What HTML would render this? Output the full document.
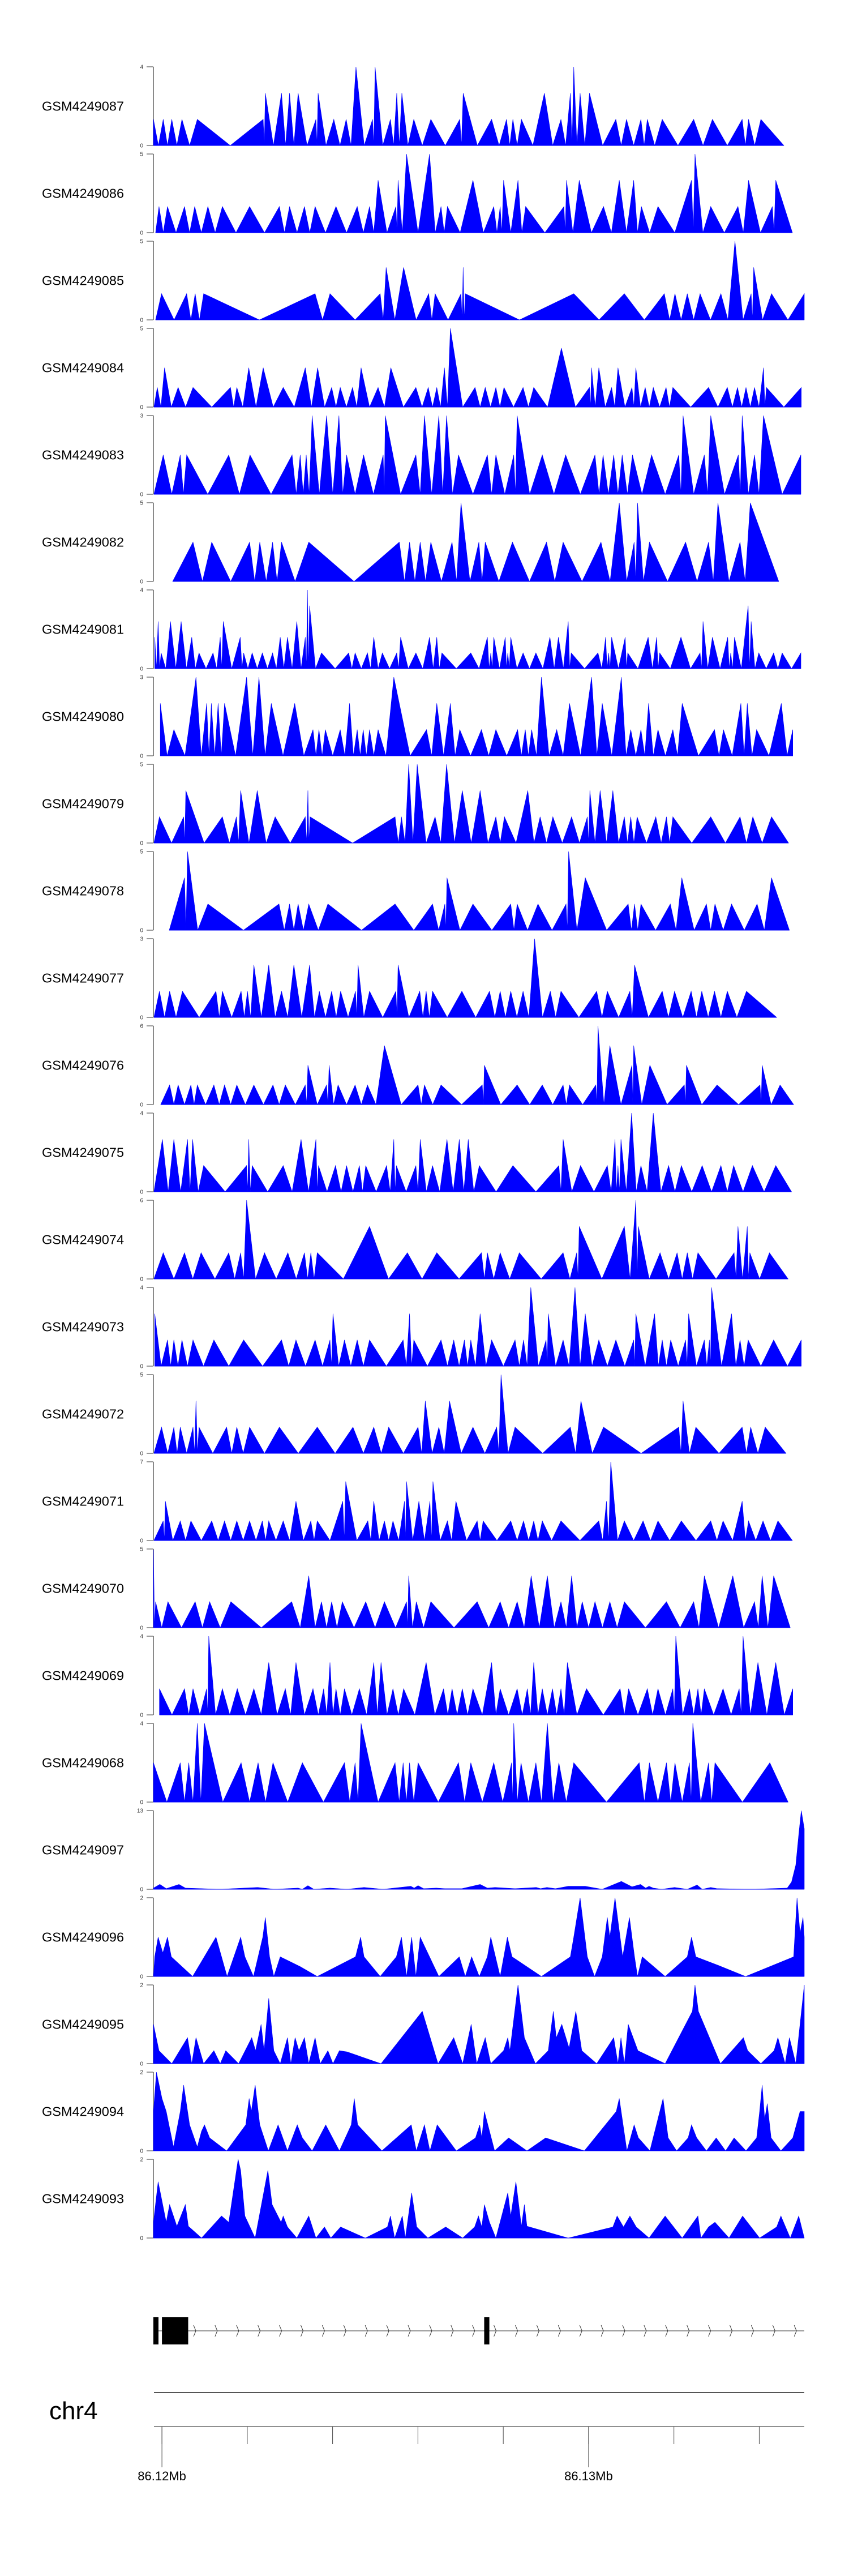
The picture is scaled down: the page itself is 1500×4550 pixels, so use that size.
<!DOCTYPE html>
<html>
<head>
<meta charset="utf-8">
<style>
  html,body{margin:0;padding:0;background:#fff;}
  svg{display:block;}
  text{font-family:"Liberation Sans",Arial,sans-serif;}
</style>
</head>
<body>
<svg id="chart" xmlns="http://www.w3.org/2000/svg" width="1500" height="4550" viewBox="0 0 1500 4550">
  <rect x="0" y="0" width="1500" height="4550" fill="#fff"/>
  <g id="tracks"></g>
  <g id="gene"></g>
  <g id="axis"></g>
</svg>
<script>
// ---- sample names and y-axis maxima ----
const sampleNames = ["GSM4249087","GSM4249086","GSM4249085","GSM4249084","GSM4249083","GSM4249082","GSM4249081","GSM4249080","GSM4249079","GSM4249078","GSM4249077","GSM4249076","GSM4249075","GSM4249074","GSM4249073","GSM4249072","GSM4249071","GSM4249070","GSM4249069","GSM4249068","GSM4249097","GSM4249096","GSM4249095","GSM4249094","GSM4249093"];
const yMaxLabels = [4,5,5,5,3,5,4,3,5,5,3,6,4,6,4,5,7,5,4,4,13,2,2,2,2];
// coverage per level (normalised read unit) for each sample
const levelScale = [1.333,1.667,1.667,1.25,1.5,2.5,0.8,1,1.667,1.667,1,1.5,1.333,2,1.333,1.667,1.75,1.65,1.333,2,1,1,1,1,1];
// peak-style tracks get zero valleys inserted between adjacent peaks
const valleyMode = [true,true,true,true,true,true,true,true,true,true,true,true,true,true,true,true,true,true,true,true,false,false,false,false,false];

// ---- genomic positions (bins of ~10 bp) and levels per sample ----
const pos0=[15,38,58,82,118,273,278,316,335,355,397,402,439,468,491,530,536,572,587,599,627,667,735,743,810,845,860,880,934,973,995,1003,1018,1040,1102,1127,1161,1176,1211,1285,1329,1399,1414,1443,1497];
const lv0=[1,1,1,1,1,1,2,2,2,2,1,2,1,1,3,1,3,1,2,2,1,1,1,2,1,1,1,1,2,1,2,3,2,2,1,1,1,1,1,1,1,1,1,1,0];
const pos1=[20,28,48,88,112,143,177,241,311,335,370,395,444,494,523,543,585,590,610,664,691,706,766,815,830,838,872,890,980,986,1016,1073,1110,1144,1162,1201,1280,1288,1325,1389,1414,1470,1478,1517];
const lv1=[0,1,1,1,1,1,1,1,1,1,1,1,1,1,1,2,1,2,3,3,1,1,2,1,1,2,2,1,1,2,2,1,2,2,1,1,2,3,1,1,2,1,2,0];
const pos2=[20,34,93,113,133,395,430,548,562,603,662,677,738,743,748,1003,1122,1216,1241,1270,1300,1349,1382,1420,1426,1468,1545];
const lv2=[0,1,1,1,1,1,1,1,2,2,1,1,1,2,1,1,1,1,1,1,1,1,3,1,2,1,1];
const pos3=[16,24,41,73,108,196,211,239,273,320,372,401,434,454,483,503,543,573,632,661,681,699,713,771,795,820,839,884,909,974,1040,1045,1062,1092,1107,1140,1149,1171,1190,1220,1236,1320,1364,1388,1408,1428,1449,1456,1538];
const lv3=[0,1,2,1,1,1,1,2,2,1,2,2,1,1,1,2,1,2,1,1,1,2,4,1,1,1,1,1,1,3,1,2,2,1,2,1,2,1,1,1,1,1,1,1,1,1,2,1,1];
const pos4=[16,38,78,93,192,242,341,360,374,388,422,451,469,509,555,560,632,652,686,704,732,800,820,862,870,929,984,1053,1072,1097,1117,1141,1186,1250,1260,1310,1325,1390,1399,1428,1449,1537];
const lv4=[0,1,1,1,1,1,1,1,1,2,2,2,1,1,1,2,1,2,2,2,1,1,1,1,2,1,1,1,1,1,1,1,1,1,2,1,2,1,2,1,2,1];
const pos5=[60,108,152,241,265,295,316,380,593,617,642,667,717,738,780,795,859,939,978,1067,1110,1145,1153,1181,1266,1320,1342,1394,1418,1485];
const lv5=[0,1,1,1,1,1,1,1,1,1,1,1,1,2,1,1,1,1,1,1,2,1,2,1,1,1,2,1,2,0];
const pos6=[18,26,33,55,80,105,122,155,172,179,219,227,247,271,295,313,330,352,372,377,382,410,474,489,518,533,553,587,596,632,664,681,693,761,800,808,815,842,848,855,884,914,947,967,990,997,1060,1078,1085,1092,1124,1130,1178,1198,1205,1255,1300,1307,1329,1365,1372,1381,1413,1420,1438,1473,1493,1537];
const lv6=[2,3,1,3,3,2,1,1,2,3,2,1,1,1,1,2,2,3,2,5,4,1,1,1,1,2,1,1,2,1,2,2,1,1,2,1,2,2,1,2,1,1,2,2,3,1,1,2,1,2,2,1,2,2,1,2,1,3,2,2,1,2,4,3,1,1,1,1];
const pos7=[31,63,115,140,151,167,182,234,263,292,347,390,404,419,454,476,494,508,523,543,580,657,681,713,735,786,820,871,889,904,927,963,993,1045,1070,1115,1137,1161,1179,1201,1236,1258,1334,1355,1396,1411,1433,1491,1518];
const lv7=[2,1,3,2,2,2,2,3,3,2,2,1,1,1,1,2,1,1,1,1,3,1,2,2,1,1,1,1,1,1,3,1,2,3,2,3,1,1,2,1,1,2,1,1,2,2,1,2,1];
const pos8=[16,29,86,91,177,210,220,259,301,372,378,383,583,598,615,635,677,704,741,783,820,840,895,924,954,998,1035,1041,1065,1095,1122,1137,1152,1196,1221,1236,1325,1394,1424,1468,1508];
const lv8=[0,1,1,2,1,1,2,2,1,1,2,1,1,1,3,3,1,3,2,2,1,1,2,1,1,1,1,2,2,2,1,1,1,1,1,1,1,1,1,1,0];
const pos9=[52,88,95,143,310,335,355,380,425,583,671,700,705,766,855,870,919,985,991,1030,1131,1146,1161,1230,1257,1315,1335,1374,1434,1468,1510];
const lv9=[0,2,3,1,1,1,1,1,1,1,1,1,2,1,1,1,1,1,3,2,1,1,1,1,2,1,1,1,1,2,0];
const pos10=[16,29,53,83,162,177,221,236,251,286,316,345,382,405,434,455,490,496,523,585,590,641,656,671,740,805,830,855,884,911,948,973,1057,1082,1135,1146,1211,1240,1279,1304,1334,1364,1409,1480];
const lv10=[0,1,1,1,1,1,1,1,2,2,1,2,2,1,1,1,1,2,1,1,2,1,1,1,1,1,1,1,1,3,1,1,1,1,1,2,1,1,1,1,1,1,1,0];
const pos11=[32,53,73,103,118,157,182,211,251,296,325,372,378,422,428,449,489,518,558,637,652,691,788,793,870,929,978,993,1055,1060,1088,1140,1144,1182,1263,1268,1340,1441,1446,1488,1520];
const lv11=[0,1,1,1,1,1,1,1,1,1,1,1,2,1,2,1,1,1,3,1,1,1,1,2,1,1,1,1,1,4,3,2,3,2,1,2,1,1,2,1,0];
const pos12=[16,36,63,95,107,133,234,239,247,320,362,397,403,443,469,499,514,563,580,586,632,642,671,705,734,755,781,860,968,978,1019,1082,1100,1107,1114,1139,1161,1190,1226,1256,1305,1349,1379,1423,1478,1515];
const lv12=[0,2,2,2,2,1,1,2,1,1,2,2,1,1,1,1,1,1,2,1,1,2,1,2,2,2,1,1,1,2,1,1,2,1,2,3,1,3,1,1,1,1,1,1,1,0];
const pos13=[16,38,88,127,192,220,234,276,331,370,385,400,523,612,681,786,800,830,875,978,1010,1016,1122,1149,1155,1206,1246,1270,1295,1380,1389,1411,1417,1463,1507];
const lv13=[0,1,1,1,1,1,3,1,1,1,1,1,2,1,1,1,1,1,1,1,1,2,2,3,2,1,1,1,1,1,2,2,1,1,0];
const pos14=[18,48,63,82,108,157,227,316,350,395,430,437,464,494,523,602,617,627,691,721,746,761,783,810,865,885,902,938,943,978,1006,1030,1062,1102,1144,1149,1193,1211,1231,1266,1273,1310,1322,1327,1374,1394,1413,1473,1538];
const lv14=[2,1,1,1,1,1,1,1,1,1,1,2,1,1,1,1,2,1,1,1,1,1,2,1,1,1,3,1,2,1,3,2,1,1,1,2,2,1,1,1,2,1,1,3,2,1,1,1,1];
const pos15=[16,34,63,78,108,115,122,187,211,241,311,400,484,533,568,637,654,686,711,766,822,832,865,995,1020,1073,1250,1260,1290,1399,1419,1453,1502];
const lv15=[0,1,1,1,1,2,1,1,1,1,1,1,1,1,1,1,2,1,2,1,1,3,1,1,2,1,1,2,1,1,1,1,0];
const pos16=[16,38,43,78,103,152,182,211,241,271,286,320,350,385,400,460,467,519,533,558,578,605,610,639,665,672,706,726,776,790,855,885,909,929,973,1062,1080,1090,1122,1166,1201,1256,1325,1354,1399,1414,1448,1483,1517];
const lv16=[0,1,2,1,1,1,1,1,1,1,1,1,2,1,1,2,3,1,2,1,1,2,3,2,2,3,1,2,1,1,1,1,1,1,1,1,2,4,1,1,1,1,1,1,2,1,1,1,0];
const pos17=[15,20,49,113,147,197,340,380,410,434,459,514,558,610,615,633,667,776,830,870,903,941,973,998,1023,1053,1088,1122,1221,1285,1310,1377,1428,1446,1473,1512];
const lv17=[3,1,1,1,1,1,1,2,1,1,1,1,1,1,2,1,1,1,1,1,2,2,1,2,1,1,1,1,1,1,2,2,1,2,2,0];
const pos18=[29,88,108,140,145,177,212,251,286,325,350,390,415,430,444,464,499,533,550,578,603,656,697,717,741,766,810,830,870,894,909,929,953,973,988,1033,1112,1132,1176,1201,1236,1243,1275,1295,1310,1354,1392,1401,1436,1478,1518];
const lv18=[1,1,1,1,3,1,1,1,2,1,2,1,1,2,1,1,1,2,2,1,1,2,1,1,1,1,2,1,1,1,2,1,1,1,2,1,1,1,1,1,1,3,1,1,1,1,1,3,2,2,1];
const pos19=[15,78,98,118,135,221,261,296,365,464,489,503,583,602,617,637,732,761,815,857,862,879,914,941,968,1003,1157,1181,1221,1241,1275,1283,1320,1335,1464,1507];
const lv19=[1,1,1,2,2,1,1,1,1,1,1,2,1,1,1,1,1,1,1,1,2,1,1,2,1,1,1,1,1,1,1,2,1,1,1,0];
const pos20=[15,30,45,75,90,170,260,300,355,365,378,392,430,470,510,555,620,628,637,650,680,700,740,783,800,818,865,915,925,940,960,990,1030,1070,1115,1140,1160,1172,1180,1190,1210,1240,1270,1293,1305,1325,1340,1420,1505,1515,1525,1532,1538,1545];
const lv20=[0.2,0.8,0.1,0.8,0.2,0,0.3,0,0.2,0,0.6,0,0.2,0,0.3,0,0.5,0.2,0.6,0.1,0.2,0.1,0.1,0.8,0.2,0.3,0.1,0.3,0.1,0.3,0.1,0.5,0.5,0,1.3,0.4,0.8,0.2,0.5,0.2,0,0.3,0,0.7,0,0.3,0.1,0,0.2,1.2,4,9,13,10];
const pos21=[15,18,26,37,48,57,107,162,188,220,230,250,272,278,288,298,313,360,400,490,502,510,548,586,598,610,622,632,642,686,734,748,763,781,800,808,830,847,858,927,995,1003,1018,1035,1052,1070,1082,1088,1100,1118,1134,1146,1153,1164,1218,1270,1280,1290,1350,1407,1520,1528,1535,1542,1545];
const lv21=[0,0.5,1,0.6,1,0.5,0,1,0,1,0.5,0,1,1.5,0.5,0,0.5,0.25,0,0.5,1,0.5,0,0.5,1,0,1,0,1,0,0.5,0,0.5,0,0.5,1,0,1,0.5,0,0.5,1,2,0.5,0,0.5,1.5,1,2,0.5,1.5,0.5,0,0.5,0,0.5,1,0.5,0.25,0,0.5,2,1.1,1.5,1];
const pos22=[15,28,58,95,105,115,133,157,172,185,215,246,255,268,275,286,298,313,330,338,348,357,370,380,395,407,425,437,452,470,550,647,684,721,742,762,775,795,808,838,848,853,872,887,913,943,955,962,975,992,1008,1022,1057,1097,1107,1114,1122,1131,1154,1218,1282,1288,1296,1348,1402,1412,1443,1474,1483,1500,1510,1525,1545];
const lv22=[1,0.33,0,0.66,0,0.66,0,0.33,0,0.33,0,0.66,0.33,1,0.33,1.66,0.33,0,0.66,0,0.66,0.33,0.66,0,0.66,0,0.33,0,0.33,0.3,0,1.33,0,0.66,0,1,0,0.66,0,0.33,0.66,0.33,2,0.66,0,0.33,1.33,0.66,1,0.4,1.33,0.33,0,0.66,0,0.66,0,1,0.33,0,1.33,2,1.33,0,0.66,0.33,0,0.33,0.66,0,0.66,0,2];
const pos23=[15,22,35,45,62,72,78,86,100,118,128,135,147,187,232,240,245,254,265,285,308,330,353,365,388,420,452,480,487,495,552,621,633,652,665,682,727,772,782,787,793,817,850,893,937,1028,1103,1110,1128,1145,1155,1182,1213,1225,1245,1272,1280,1292,1315,1338,1360,1380,1408,1433,1440,1446,1452,1458,1467,1490,1518,1535,1545];
const lv23=[1,2,1.33,1,0.1,0.66,1,1.67,0.66,0.1,0.5,0.66,0.33,0,0.66,1.33,1,1.67,0.66,0,0.66,0,0.66,0.33,0,0.66,0,0.66,1.33,0.66,0,0.66,0,0.66,0,0.66,0,0.33,0.66,0.33,1,0,0.33,0,0.33,0,1,1.33,0,0.66,0.33,0,1.33,0.33,0,0.33,0.66,0.33,0,0.33,0,0.33,0,0.33,1,1.67,0.8,1.2,0.33,0,0.33,1,1];
const pos24=[15,26,45,53,70,90,97,128,175,192,214,220,230,254,284,294,315,320,330,352,380,397,417,432,455,513,565,572,582,600,607,622,634,660,702,742,770,779,787,793,805,820,848,855,867,880,887,893,990,1095,1105,1120,1135,1150,1180,1218,1258,1295,1302,1320,1335,1368,1400,1440,1480,1490,1512,1532,1545];
const lv24=[0.4,1.43,0.4,0.85,0.3,0.85,0.3,0,0.56,0.4,2,1.72,0.56,0,1.72,0.85,0.4,0.56,0.28,0,0.56,0,0.28,0,0.28,0,0.28,0.56,0,0.56,0,1.15,0.28,0,0.28,0,0.28,0.56,0.28,0.85,0.4,0,1.15,0.56,1.43,0.3,0.85,0.3,0,0.28,0.56,0.28,0.56,0.28,0,0.56,0,0.56,0,0.28,0.4,0,0.56,0,0.28,0.56,0,0.56,0];

// ---- genome axis data ----
const genomeStartBp = 86119652;   // bp at bin 0
const bpPerBin = 9.97;
const majorTicksBp = [86120000, 86130000];
const majorTickLabels = ["86.12Mb", "86.13Mb"];
const minorTicksBp = [86120000,86122000,86124000,86126000,86128000,86130000,86132000,86134000];
// gene model: exon start/end in bp
const exonStartBp = [86119799, 86120000, 86127553];
const exonEndBp   = [86119919, 86120615, 86127674];
const geneStartBp = 86119799;
const geneEndBp   = 86135000;

const positions=[pos0,pos1,pos2,pos3,pos4,pos5,pos6,pos7,pos8,pos9,pos10,pos11,pos12,pos13,pos14,pos15,pos16,pos17,pos18,pos19,pos20,pos21,pos22,pos23,pos24];
const levels=[lv0,lv1,lv2,lv3,lv4,lv5,lv6,lv7,lv8,lv9,lv10,lv11,lv12,lv13,lv14,lv15,lv16,lv17,lv18,lv19,lv20,lv21,lv22,lv23,lv24];

// ---- layout ----
const NS="http://www.w3.org/2000/svg";
const binMin=16, binMax=1545, pxMin=271.9, pxMax=1421;
function xScale(bin){return pxMin+(bin-binMin)/(binMax-binMin)*(pxMax-pxMin);}
function xBp(bp){return xScale((bp-genomeStartBp)/bpPerBin);}
const plotRight=1421;
const trackTop0=118, trackPitch=154, trackH=139, axisX=271;
function yScale(v,max,top){return top+trackH-(v/max)*trackH;}
function mk(tag,attrs,parent){const e=document.createElementNS(NS,tag);for(const k in attrs)e.setAttribute(k,attrs[k]);parent.appendChild(e);return e;}

const tg=document.getElementById('tracks');
sampleNames.forEach((name,i)=>{
  const top=trackTop0+i*trackPitch, base=top+trackH, max=yMaxLabels[i];
  const g=mk('g',{},tg);
  
  
  const lab=mk('text',{x:74,y:top+trackH/2+8,'font-size':'23.5','fill':'#000'},g);
  lab.textContent=name;
  
  
  const ax=mk('line',{x1:axisX,y1:top,x2:axisX,y2:base,stroke:'#8a8a8a','stroke-width':2},g);
  
  
  [[max,top],[0,base]].forEach(([v,y])=>{
    const tk=mk('line',{x1:259,y1:y,x2:axisX,y2:y,stroke:'#555','stroke-width':1.2},g);
    
    
    const tl=mk('text',{x:253,y:y+3.5,'font-size':'10','text-anchor':'end','fill':'#333'},g);
    tl.textContent=String(v);
    
    
  });
  const P=positions[i], L=levels[i], n=Math.min(P.length,L.length), s=levelScale[i];
  const verts=[];
  for(let k=0;k<n;k++){
    const v=L[k]*s;
    if(valleyMode[i] && k>0){
      const pv=L[k-1]*s;
      if(pv>0 && v>0) verts.push([(P[k-1]+P[k])/2,0]);
    }
    verts.push([P[k],v]);
  }
  let pts=[[xScale(verts[0][0]),base]];
  verts.forEach(([p,v])=>pts.push([xScale(p),yScale(Math.min(v,max),max,top)]));
  pts.push([xScale(verts[verts.length-1][0]),base]);
  const poly=mk('polygon',{points:pts.map(q=>q[0].toFixed(1)+','+q[1].toFixed(1)).join(' '),fill:'#0000ff',stroke:'#0000ff','stroke-width':0.6,'stroke-linejoin':'miter'},g);
  
  
  const bl=mk('line',{x1:xScale(verts[0][0]),y1:base,x2:xScale(verts[verts.length-1][0]),y2:base,stroke:'#0000ff','stroke-width':1},g);
  
  
});

// ---- gene model ----
const gg=document.getElementById('gene');
const gy=4117;
const il=mk('line',{x1:xBp(geneStartBp),y1:gy,x2:plotRight,y2:gy,stroke:'#333','stroke-width':1},gg);


for(let x=345;x<=1414;x+=37.9){
  const ch=mk('polyline',{points:(x-3)+','+(gy-10)+' '+(x+1)+','+gy+' '+(x-3)+','+(gy+10),fill:'none',stroke:'#333','stroke-width':1},gg);
  
  
}
exonStartBp.forEach((sb,k)=>{
  const x1=xBp(sb), x2=xBp(exonEndBp[k]);
  const r=mk('rect',{x:x1,y:4093,width:Math.max(x2-x1,3),height:48,fill:'#000'},gg);
  
  
});

// ---- genome axis ----
const ag=document.getElementById('axis');
const gl=mk('line',{x1:272,y1:4226,x2:plotRight,y2:4226,stroke:'#555','stroke-width':2},ag);


const chr=mk('text',{x:87,y:4273,'font-size':'44','fill':'#000'},ag);
chr.textContent='chr4';


const al=mk('line',{x1:272,y1:4286,x2:plotRight,y2:4286,stroke:'#222','stroke-width':1},ag);


minorTicksBp.forEach(bp=>{
  const x=xBp(bp);
  const t=mk('line',{x1:x,y1:4286,x2:x,y2:4317,stroke:'#444','stroke-width':1},ag);
  
  
});
majorTicksBp.forEach((bp,k)=>{
  const x=xBp(bp);
  const t=mk('line',{x1:x,y1:4286,x2:x,y2:4358,stroke:'#444','stroke-width':1},ag);
  
  
  const lb=mk('text',{x:x,y:4381,'font-size':'22','text-anchor':'middle','fill':'#000'},ag);
  lb.textContent=majorTickLabels[k];
  
  
});
</script>
</body>
</html>
